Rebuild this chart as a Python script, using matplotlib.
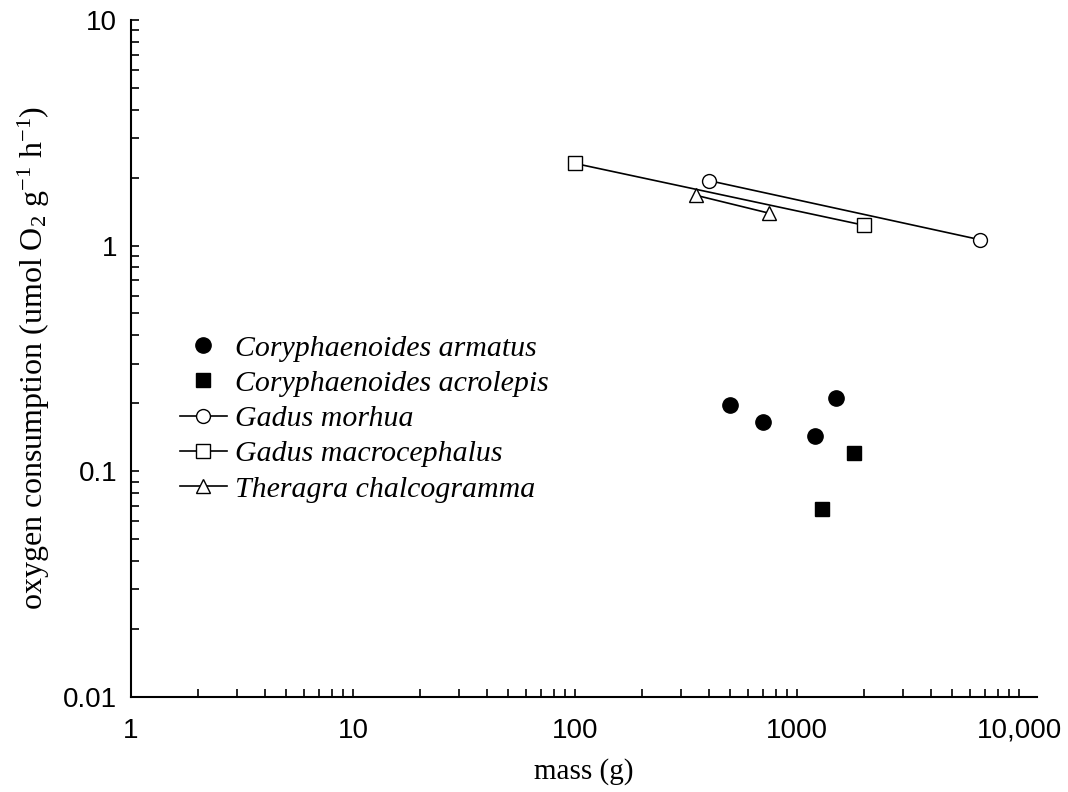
import matplotlib
matplotlib.use('Agg')
import matplotlib.pyplot as plt
from matplotlib.ticker import FixedLocator, FixedFormatter, LogLocator, NullFormatter

plt.rcParams['font.family'] = 'Liberation Sans'
plt.rcParams['mathtext.fontset'] = 'custom'
plt.rcParams['mathtext.rm'] = 'Liberation Serif'
plt.rcParams['mathtext.it'] = 'Liberation Serif:italic'

# C. armatus / C. acrolepis (deep-sea, single points)
armatus_mass = [500, 700, 1200, 1500]
armatus_o2 = [0.196, 0.165, 0.143, 0.211]
acrolepis_mass = [1800, 1300]
acrolepis_o2 = [0.121, 0.068]

# shallow-water gadids (two sizes each)
morhua_mass = [400, 6700]
morhua_o2 = [1.94, 1.06]
macro_mass = [100, 2000]
macro_o2 = [2.31, 1.23]
theragra_mass = [350, 750]
theragra_o2 = [1.67, 1.39]

xticks = [1, 10, 100, 1000, 10000]
xtick_labels = ['1', '10', '100', '1000', '10,000']
yticks = [0.01, 0.1, 1, 10]
ytick_labels = ['0.01', '0.1', '1', '10']

fig = plt.figure(figsize=(10.68, 7.92), dpi=100)
ax = fig.add_axes([0.1227, 0.12, 0.971 - 0.1227, 0.975 - 0.12])

ax.plot(armatus_mass, armatus_o2, 'o', color='black', ms=11, ls='none',
        label='Coryphaenoides armatus')
ax.plot(acrolepis_mass, acrolepis_o2, 's', color='black', ms=10, ls='none',
        label='Coryphaenoides acrolepis')
ax.plot(morhua_mass, morhua_o2, '-o', color='black', mfc='white', ms=10, lw=1.2,
        label='Gadus morhua')
ax.plot(macro_mass, macro_o2, '-s', color='black', mfc='white', ms=10, lw=1.2,
        label='Gadus macrocephalus')
ax.plot(theragra_mass, theragra_o2, '-^', color='black', mfc='white', ms=10, lw=1.2,
        label='Theragra chalcogramma')

ax.set_xscale('log')
ax.set_yscale('log')
ax.set_xlim(1, 12050)
ax.set_ylim(0.01, 10)

ax.xaxis.set_major_locator(FixedLocator(xticks))
ax.xaxis.set_major_formatter(FixedFormatter(xtick_labels))
ax.yaxis.set_major_locator(FixedLocator(yticks))
ax.yaxis.set_major_formatter(FixedFormatter(ytick_labels))
ax.xaxis.set_minor_locator(LogLocator(base=10, subs=range(2, 10), numticks=20))
ax.yaxis.set_minor_locator(LogLocator(base=10, subs=range(2, 10), numticks=20))
ax.xaxis.set_minor_formatter(NullFormatter())
ax.yaxis.set_minor_formatter(NullFormatter())

ax.tick_params(which='both', direction='in', length=6, width=1.2, labelsize=20)
ax.tick_params(axis='x', which='both', pad=15)
ax.tick_params(axis='y', which='both', pad=10)

for s in ['top', 'right']:
    ax.spines[s].set_visible(False)
for s in ['left', 'bottom']:
    ax.spines[s].set_linewidth(1.5)

ax.set_xlabel('mass (g)', family='Liberation Serif', fontsize=21, labelpad=10)
ax.set_ylabel(r'oxygen consumption (umol O$_2$ g$^{-1}$ h$^{-1}$)',
              family='Liberation Serif', fontsize=23, labelpad=8)

leg = ax.legend(loc='upper left', bbox_to_anchor=(0.054, 0.535), frameon=False,
                prop={'family': 'Liberation Serif', 'style': 'italic', 'size': 21.5},
                handlelength=1.57, handletextpad=0.27, labelspacing=0.28,
                borderaxespad=0, borderpad=0)

fig.savefig('out.png', dpi=100)
